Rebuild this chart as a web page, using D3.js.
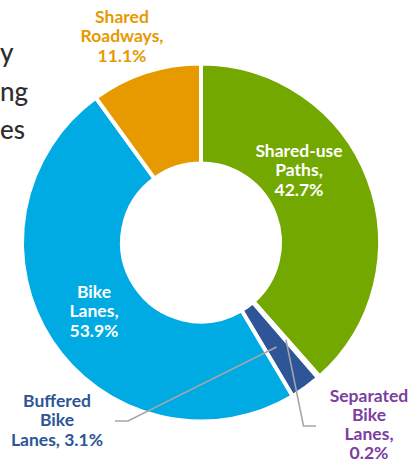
<!DOCTYPE html>
<html>
<head>
<meta charset="utf-8">
<script src="https://cdn.jsdelivr.net/npm/d3@7"></script>
<style>
  body { margin:0; background:#fff; }
  svg { display:block; font-family: Lato, "Open Sans", sans-serif; }
</style>
</head>
<body>
<div id="chart"></div>
<script>
// facility types, share of network (%)
const categories = ["Shared-use Paths", "Separated Bike Lanes", "Buffered Bike Lanes", "Bike Lanes", "Shared Roadways"];
const values     = [42.7, 0.2, 3.1, 53.9, 11.1];
const colors     = ["#72a800", "#7b3ea1", "#2d5597", "#00aae2", "#e69a00"];
const labelLines = [
  ["Shared-use", "Paths,", "42.7%"],
  ["Separated", "Bike", "Lanes,", "0.2%"],
  ["Buffered", "Bike", "Lanes, 3.1%"],
  ["Bike", "Lanes,", "53.9%"],
  ["Shared", "Roadways,", "11.1%"]
];
// cut-off heading text at the left edge
const headFragments = ["y", "ng", "es"];

const W = 412, H = 464;
const cx = 201, cy = 242.5, R = 179, r0 = 79;

// label placement: [x, first baseline, colour, leader elbow/end or null]
const labelPos = [
  [299, 157, "#fff", null],
  [369, 401.5, "#7b3ea1", [[303.5, 426], [316, 426]]],
  [57, 407, "#2d5597", [[128, 421], [115, 421]]],
  [94, 298, "#fff", null],
  [122, 23, "#e69a00", null]
];
const lineH = 19.3;

const svg = d3.select("#chart").append("svg")
  .attr("width", W).attr("height", H);

// heading fragments
svg.append("g").selectAll("text").data(headFragments).enter()
  .append("text")
  .attr("x", 0)
  .attr("y", (d,i) => 62 + i*38.5)
  .attr("fill", "#2e2e2e")
  .attr("font-size", 26)
  .attr("font-weight", 500)
  .text(d => d);

const pie = d3.pie().sort(null).value(d => d)(values);
const arc = d3.arc().innerRadius(r0).outerRadius(R);

const g = svg.append("g").attr("transform", `translate(${cx},${cy})`);

g.selectAll("path").data(pie).enter()
  .append("path")
  .attr("d", arc)
  .attr("fill", (d,i) => colors[i])
  .attr("stroke", "#fff")
  .attr("stroke-width", 4)
  .attr("stroke-linejoin", "miter");

// leader lines from slice centroid to outside label
pie.forEach((d,i) => {
  const lp = labelPos[i][3];
  if (!lp) return;
  const c = arc.centroid(d);
  const pts = [[cx + c[0], cy + c[1]], ...lp];
  svg.append("path")
    .attr("d", d3.line()(pts))
    .attr("fill", "none")
    .attr("stroke", "#a6a6a6")
    .attr("stroke-width", 1.6);
});

// labels
categories.forEach((cat,i) => {
  const [x, y, col] = labelPos[i];
  const t = svg.append("text")
    .attr("text-anchor", "middle")
    .attr("fill", col)
    .attr("font-size", 17.5)
    .attr("font-weight", 700);
  labelLines[i].forEach((s,j) => {
    t.append("tspan").attr("x", x).attr("y", y + j*lineH).text(s);
  });
});
</script>
</body>
</html>
